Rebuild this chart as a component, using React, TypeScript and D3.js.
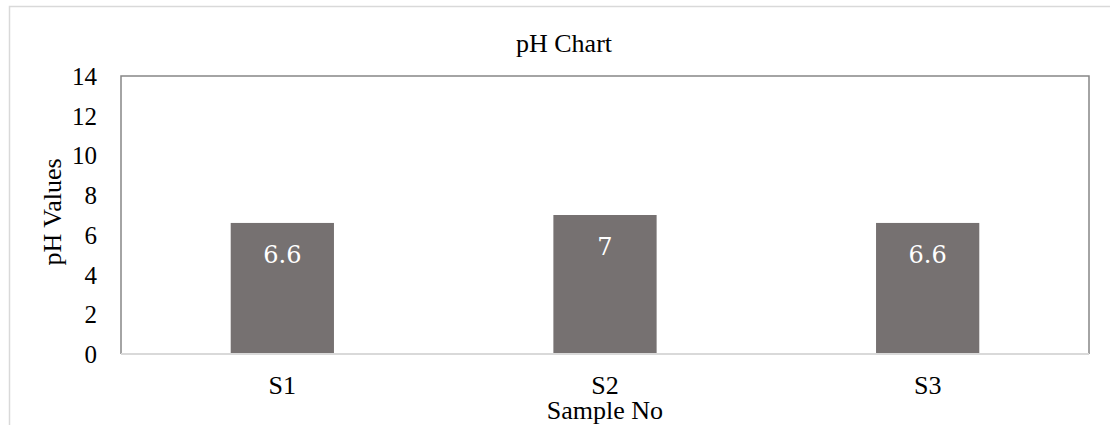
import React from "react";
import * as d3 from "d3";

const categories: string[] = ["S1", "S2", "S3"];
const phValues: number[] = [6.6, 7, 6.6];
const yTicks: number[] = [0, 2, 4, 6, 8, 10, 12, 14];
const chartTitle = "pH Chart";
const xTitle = "Sample No";
const yTitle = "pH Values";

const W = 1110;
const H = 425;
const plot = { left: 121, right: 1089, top: 76, bottom: 354 };
const serif = "'Liberation Serif', 'Times New Roman', serif";

export default function App() {
  const x = d3
    .scaleBand<string>()
    .domain(categories)
    .range([plot.left, plot.right])
    .paddingInner(0.68)
    .paddingOuter(0.34);
  const y = d3.scaleLinear().domain([0, 14]).range([plot.bottom, plot.top]);

  return (
    <svg
      width={W}
      height={H}
      style={{ position: "absolute", left: 0, top: 0, background: "#fff" }}
    >
      {/* outer chart border */}
      <rect x={9.5} y={6.5} width={W + 20} height={H + 20} fill="#fff" stroke="#d9d9d9" strokeWidth={1.5} />
      {/* title */}
      <text x={564} y={52} textAnchor="middle" fontFamily={serif} fontSize={26} fill="#000">
        {chartTitle}
      </text>
      {/* plot frame (top, left, right) */}
      <path
        d={`M${plot.left},${plot.bottom} V${plot.top} H${plot.right} V${plot.bottom}`}
        fill="none"
        stroke="#868686"
        strokeWidth={1.5}
      />
      {/* bars */}
      {categories.map((c, i) => (
        <rect
          key={c}
          x={x(c)!}
          y={y(phValues[i])}
          width={x.bandwidth()}
          height={y(0) - y(phValues[i])}
          fill="#767171"
        />
      ))}
      {/* data labels */}
      {categories.map((c, i) => (
        <text
          key={"l" + c}
          x={x(c)! + x.bandwidth() / 2}
          y={y(phValues[i]) + 40}
          textAnchor="middle"
          fontFamily="'DejaVu Serif', serif"
          fontSize={24}
          fill="#fff"
        >
          {String(phValues[i])}
        </text>
      ))}
      {/* x axis line */}
      <line x1={plot.left} x2={plot.right} y1={y(0)} y2={y(0)} stroke="#d9d9d9" strokeWidth={2} />
      {/* y tick labels */}
      {yTicks.map((t) => (
        <text
          key={"t" + t}
          x={97}
          y={y(t) + 9}
          textAnchor="end"
          fontFamily={serif}
          fontSize={25}
          fill="#000"
        >
          {t}
        </text>
      ))}
      {/* x tick labels */}
      {categories.map((c) => (
        <text
          key={"x" + c}
          x={x(c)! + x.bandwidth() / 2}
          y={394}
          textAnchor="middle"
          fontFamily={serif}
          fontSize={26}
          fill="#000"
        >
          {c}
        </text>
      ))}
      {/* axis titles */}
      <text x={(plot.left + plot.right) / 2} y={419} textAnchor="middle" fontFamily={serif} fontSize={26} fill="#000">
        {xTitle}
      </text>
      <text
        transform={`translate(61, ${(plot.top + plot.bottom) / 2 - 3}) rotate(-90)`}
        textAnchor="middle"
        fontFamily={serif}
        fontSize={26}
        fill="#000"
      >
        {yTitle}
      </text>
    </svg>
  );
}
